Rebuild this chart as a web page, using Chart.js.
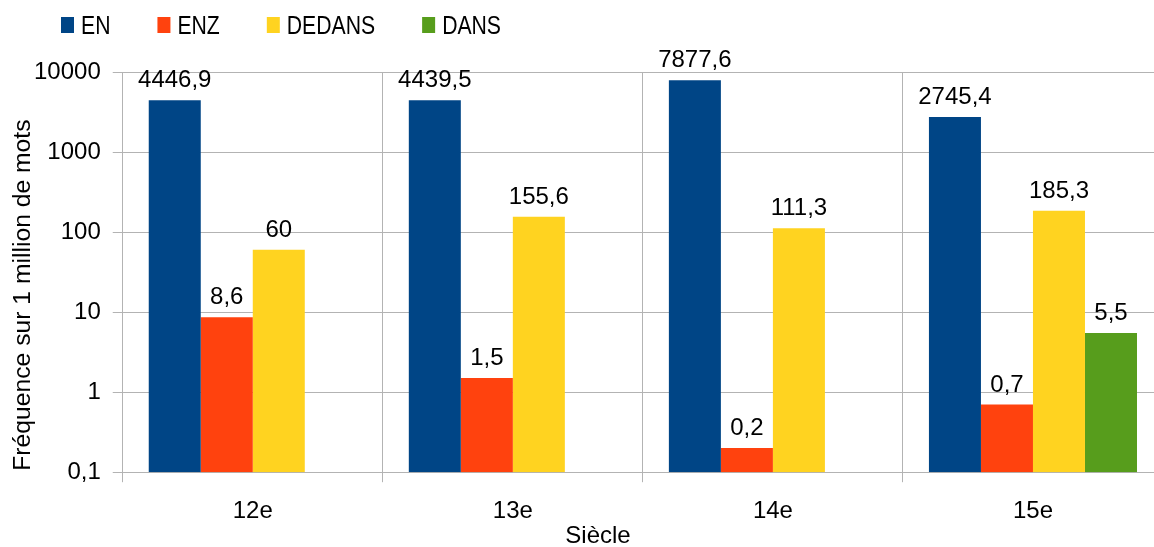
<!DOCTYPE html>
<html lang="fr">
<head>
<meta charset="utf-8">
<title>Fréquence par siècle</title>
<script src="https://cdn.jsdelivr.net/npm/chart.js@4/dist/chart.umd.min.js"></script>
<style>
  html, body { margin: 0; padding: 0; background: #fff; }
  #wrap { position: relative; width: 1154px; height: 547px; overflow: hidden; }
  /* la zone de tracé déborde un peu à droite du cadre */
  #inner { position: relative; width: 1163px; height: 547px; }
</style>
</head>
<body>
<div id="wrap"><div id="inner"><canvas id="chart"></canvas></div></div>
<script>
const siecles = ["12e", "13e", "14e", "15e"];
const en = [4446.9, 4439.5, 7877.6, 2745.4];
const enz = [8.6, 1.5, 0.2, 0.7];
const dedans = [60, 155.6, 111.3, 185.3];
const dans = [null, null, null, 5.5];
const yTicks = [0.1, 1, 10, 100, 1000, 10000];

const FONT = "'Liberation Sans', Arial, sans-serif";
const GRID = "#b3b3b3";

// virgule décimale, sans séparateur de milliers
const fmt = v => String(v).replace(".", ",");

// valeurs au-dessus des barres
const valueLabels = {
    id: "valueLabels",
    afterDatasetsDraw(chart) {
        const ctx = chart.ctx;
        ctx.save();
        ctx.font = "24px " + FONT;
        ctx.fillStyle = "#000";
        ctx.textAlign = "center";
        ctx.textBaseline = "alphabetic";
        chart.data.datasets.forEach((ds, i) => {
            const meta = chart.getDatasetMeta(i);
            meta.data.forEach((bar, j) => {
                const v = ds.data[j];
                if (v === null || v === undefined) return;
                ctx.fillText(fmt(v), bar.x, bar.y - 13);
            });
        });
        ctx.restore();
    }
};

// légende en haut à gauche (texte un peu étroit) + titres des axes
const extras = {
    id: "extras",
    afterDraw(chart) {
        const ctx = chart.ctx;
        const area = chart.chartArea;
        const squeeze = 0.815;
        ctx.save();
        ctx.font = "26px " + FONT;
        ctx.textBaseline = "alphabetic";
        ctx.textAlign = "left";
        let x = 61;
        chart.data.datasets.forEach(ds => {
            ctx.fillStyle = ds.backgroundColor;
            ctx.fillRect(x, 17, 13, 16);
            ctx.fillStyle = "#000";
            ctx.save();
            ctx.translate(x + 20, 34);
            ctx.scale(squeeze, 1);
            ctx.fillText(ds.label, 0, 0);
            ctx.restore();
            x += 20 + ctx.measureText(ds.label).width * squeeze + 47;
        });

        ctx.font = "24px " + FONT;
        ctx.textAlign = "center";
        ctx.fillText("Siècle", 598, 543);

        ctx.font = "24.7px " + FONT;
        ctx.translate(30, (area.top + area.bottom) / 2 + 23);
        ctx.rotate(-Math.PI / 2);
        ctx.fillText("Fréquence sur 1 million de mots", 0, 0);
        ctx.restore();
    }
};

new Chart(document.getElementById("chart"), {
    type: "bar",
    data: {
        labels: siecles,
        datasets: [
            { label: "EN", data: en, backgroundColor: "#004586" },
            { label: "ENZ", data: enz, backgroundColor: "#ff420e" },
            { label: "DEDANS", data: dedans, backgroundColor: "#ffd320" },
            { label: "DANS", data: dans, backgroundColor: "#579d1c" }
        ]
    },
    options: {
        responsive: true,
        maintainAspectRatio: false,
        animation: false,
        categoryPercentage: 0.8,
        barPercentage: 1.0,
        layout: { padding: { top: 72, bottom: 6, left: 22, right: 0 } },
        plugins: {
            legend: { display: false },
            tooltip: { enabled: false }
        },
        scales: {
            x: {
                grid: { color: GRID, offset: true, tickLength: 10, lineWidth: 1 },
                border: { color: GRID },
                ticks: { color: "#000", font: { family: FONT, size: 24 }, padding: 15 }
            },
            y: {
                type: "logarithmic",
                min: 0.1,
                max: 10000,
                afterBuildTicks: axis => { axis.ticks = yTicks.map(v => ({ value: v })); },
                grid: { color: GRID, tickLength: 10 },
                border: { color: GRID },
                ticks: {
                    color: "#000",
                    font: { family: FONT, size: 24 },
                    padding: 12,
                    callback: v => fmt(v)
                }
            }
        }
    },
    plugins: [valueLabels, extras]
});
</script>
</body>
</html>
